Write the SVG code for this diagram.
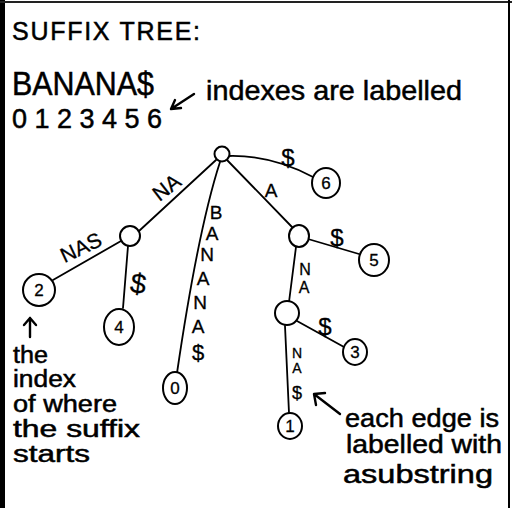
<svg xmlns="http://www.w3.org/2000/svg" width="512" height="508" viewBox="0 0 512 508">
<defs>
<style>
text{font-family:"Liberation Sans","DejaVu Sans",sans-serif;fill:#000;stroke:#000;stroke-width:0.5}
.edge{fill:none;stroke:#000;stroke-width:1.8;stroke-linecap:round}
.node{fill:#fff;stroke:#000;stroke-width:2}
.num{font-size:17px;text-anchor:middle;stroke-width:0.3}
.lbl{font-size:19px;text-anchor:middle;stroke-width:0.3}
.note{font-size:23px}
.arr{fill:none;stroke:#000;stroke-width:2.4;stroke-linecap:round;stroke-linejoin:round}
</style>
</defs>
<rect x="0" y="0" width="512" height="508" fill="#fff"/>
<g id="frame">
<rect x="0" y="0" width="5" height="508" fill="#000"/>
<line x1="0" y1="2" x2="512" y2="2" stroke="#222" stroke-width="2"/>
<line x1="509" y1="0" x2="509" y2="508" stroke="#000" stroke-width="2"/>
</g>
<g id="title">
<text x="12" y="40" style="font-size:25px" textLength="188" lengthAdjust="spacing">SUFFIX TREE:</text>
<text x="12" y="95" style="font-size:33px" textLength="142" lengthAdjust="spacingAndGlyphs">BANANA$</text>
<text x="12" y="128" style="font-size:27px" textLength="150" lengthAdjust="spacing">0123456</text>
<text x="206" y="100" style="font-size:28px" textLength="256" lengthAdjust="spacingAndGlyphs">indexes are labelled</text>
<path class="arr" d="M194,94 L171,109 M171,109 L181,108 M171,109 L175,100"/>
</g>
<g id="connectors">
<path class="edge" d="M216,160 L139,231"/>
<path class="edge" d="M121,241 L53,280"/>
<path class="edge" d="M128,246 L123,308"/>
<path class="edge" d="M220,162 Q198,230 177,373"/>
<path class="edge" d="M229,156 Q272,155 313,177"/>
<path class="edge" d="M227,160 L292,227"/>
<path class="edge" d="M308,239 L359,254"/>
<path class="edge" d="M296,247 L289,302"/>
<path class="edge" d="M297,321 L344,347"/>
<path class="edge" d="M285,326 L289,413"/>
</g>
<g id="edge-labels">
<text class="lbl" transform="translate(171,193) rotate(-38)" style="font-size:21px">NA</text>
<text class="lbl" transform="translate(84,254) rotate(-25)" style="font-size:21px">NAS</text>
<text class="lbl" transform="translate(137,293) rotate(8)" style="font-size:28px">$</text>
<text class="lbl" x="216" y="219">B</text>
<text class="lbl" x="212" y="240">A</text>
<text class="lbl" x="207" y="261">N</text>
<text class="lbl" x="203" y="285">A</text>
<text class="lbl" x="200" y="309">N</text>
<text class="lbl" x="198" y="333">A</text>
<text class="lbl" x="198" y="360" style="font-size:22px">$</text>
<text class="lbl" x="288" y="166" style="font-size:24px">$</text>
<text class="lbl" x="271" y="197">A</text>
<text class="lbl" x="337" y="246" style="font-size:24px">$</text>
<text class="lbl" x="305" y="275" style="font-size:16px">N</text>
<text class="lbl" x="304" y="293" style="font-size:16px">A</text>
<text class="lbl" x="325" y="335" style="font-size:24px">$</text>
<text class="lbl" x="297" y="358" style="font-size:14px">N</text>
<text class="lbl" x="297" y="373" style="font-size:14px">A</text>
<text class="lbl" x="297" y="399" style="font-size:18px">$</text>
</g>
<g id="root"><circle class="node" cx="222" cy="154" r="7.5"/></g>
<g id="node-na"><ellipse class="node" cx="130" cy="236" rx="10" ry="10"/></g>
<g id="node-a"><ellipse class="node" cx="299" cy="236" rx="10" ry="11"/></g>
<g id="node-ana"><ellipse class="node" cx="287" cy="313" rx="12" ry="12"/></g>
<g id="leaf-2"><ellipse class="node" cx="39" cy="290" rx="16" ry="16"/><text class="num" x="39" y="296">2</text></g>
<g id="leaf-4"><ellipse class="node" cx="119" cy="327" rx="15" ry="18"/><text class="num" x="119" y="333">4</text></g>
<g id="leaf-0"><ellipse class="node" cx="175" cy="388" rx="12" ry="16"/><text class="num" x="175" y="394">0</text></g>
<g id="leaf-6"><ellipse class="node" cx="326" cy="183" rx="14" ry="15"/><text class="num" x="326" y="189">6</text></g>
<g id="leaf-5"><ellipse class="node" cx="374" cy="260" rx="15" ry="16"/><text class="num" x="374" y="266">5</text></g>
<g id="leaf-3"><ellipse class="node" cx="355" cy="352" rx="12" ry="13"/><text class="num" x="355" y="358">3</text></g>
<g id="leaf-1"><ellipse class="node" cx="290" cy="426" rx="12" ry="13"/><text class="num" x="290" y="432">1</text></g>
<g id="note-left">
<path class="arr" d="M30,337 L30,318 M24,325 L30,318 L36,325"/>
<text class="note" x="13" y="363" textLength="35" lengthAdjust="spacingAndGlyphs">the</text>
<text class="note" x="13" y="387" textLength="63" lengthAdjust="spacingAndGlyphs">index</text>
<text class="note" x="13" y="412" textLength="104" lengthAdjust="spacingAndGlyphs">of where</text>
<text class="note" x="13" y="437" textLength="127" lengthAdjust="spacingAndGlyphs">the suffix</text>
<text class="note" x="13" y="462" textLength="77" lengthAdjust="spacingAndGlyphs">starts</text>
</g>
<g id="note-right">
<path class="arr" d="M340,414 L314,394 M314,394 L316,405 M314,394 L325,393"/>
<text class="note" x="345" y="427" style="font-size:25px" textLength="154" lengthAdjust="spacingAndGlyphs">each edge is</text>
<text class="note" x="346" y="453" style="font-size:25px" textLength="156" lengthAdjust="spacingAndGlyphs">labelled with</text>
<text class="note" x="343" y="483" style="font-size:25px" textLength="150" lengthAdjust="spacingAndGlyphs">asubstring</text>
</g>
</svg>
